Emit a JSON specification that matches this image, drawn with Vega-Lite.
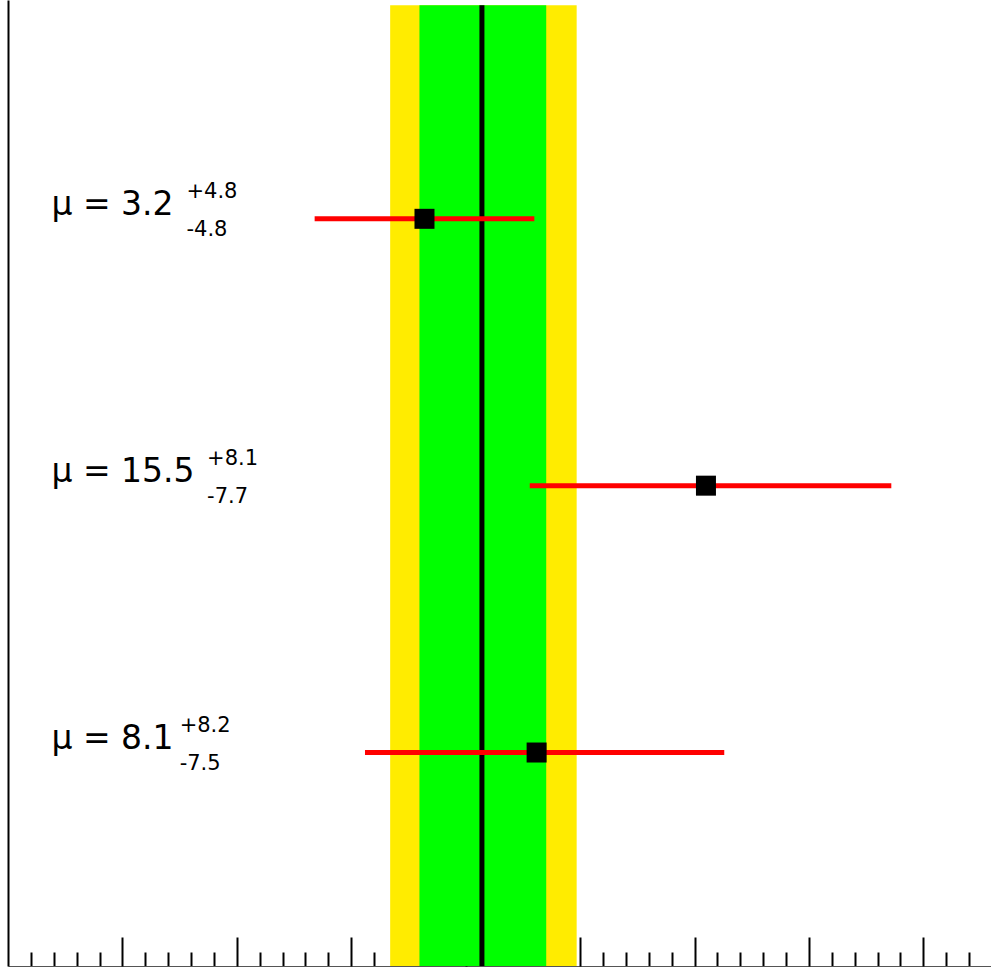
{
  "$schema": "https://vega.github.io/schema/vega-lite/v6.json",
  "width": 984,
  "height": 966,
  "autosize": {"type": "none"},
  "padding": {"left": 8, "top": 0, "right": 0, "bottom": 1},
  "background": "white",
  "config": {"view": {"stroke": null}},
  "datasets": {
    "bands": [
      {"band": "2 sigma", "lo": 1.7, "hi": 9.85},
      {"band": "1 sigma", "lo": 2.98, "hi": 8.52}
    ],
    "center": [{"value": 5.71}],
    "fits": [
      {"mu": 3.2, "lo": -1.6, "hi": 8.0, "row": 3, "label": "μ = 3.2", "up": "+4.8", "dn": "-4.8", "sx": -7.2},
      {"mu": 15.5, "lo": 7.8, "hi": 23.6, "row": 2, "label": "μ = 15.5", "up": "+8.1", "dn": "-7.7", "sx": -6.3},
      {"mu": 8.1, "lo": 0.6, "hi": 16.3, "row": 1, "label": "μ = 8.1", "up": "+8.2", "dn": "-7.5", "sx": -7.5}
    ]
  },
  "resolve": {"axis": {"x": "independent"}},
  "layer": [
    {
      "data": {"name": "bands"},
      "mark": {"type": "rect"},
      "encoding": {
        "x": {
          "field": "lo", "type": "quantitative",
          "scale": {"domain": [-15, 28], "nice": false, "zero": false},
          "axis": {
            "orient": "bottom", "title": null, "labels": false, "grid": false,
            "values": [-14,-13,-12,-11,-9,-8,-7,-6,-4,-3,-2,-1,1,2,3,4,6,7,8,9,11,12,13,14,16,17,18,19,21,22,23,24,26,27],
            "tickSize": -14, "tickWidth": 2, "tickColor": "black",
            "domain": true, "domainColor": "#555555", "domainWidth": 1
          }
        },
        "x2": {"field": "hi"},
        "y": {
          "datum": 0.2, "type": "quantitative",
          "scale": {"domain": [0.2, 3.82], "nice": false, "zero": false},
          "axis": {"orient": "left", "title": null, "labels": false, "ticks": false, "grid": false, "domain": true, "domainColor": "black", "domainWidth": 2}
        },
        "y2": {"datum": 3.8},
        "color": {
          "field": "band", "type": "nominal",
          "scale": {"domain": ["2 sigma", "1 sigma"], "range": ["#ffec00", "#00ff00"]},
          "legend": null
        }
      }
    },
    {
      "data": {"name": "center"},
      "mark": {"type": "rule", "color": "black", "strokeWidth": 5},
      "encoding": {
        "x": {
          "field": "value", "type": "quantitative",
          "axis": {
            "orient": "bottom", "title": null, "labels": false, "grid": false,
            "values": [-10, -5, 0, 5, 10, 15, 20, 25],
            "tickSize": -29, "tickWidth": 2, "tickColor": "black",
            "domain": false
          }
        },
        "y": {"datum": 0.2, "type": "quantitative"},
        "y2": {"datum": 3.8}
      }
    },
    {
      "data": {"name": "fits"},
      "mark": {"type": "rule", "color": "#ff0000", "strokeWidth": 5},
      "encoding": {
        "x": {"field": "lo", "type": "quantitative", "axis": null},
        "x2": {"field": "hi"},
        "y": {"field": "row", "type": "quantitative"}
      }
    },
    {
      "data": {"name": "fits"},
      "mark": {"type": "point", "shape": "square", "filled": true, "color": "black", "size": 400, "opacity": 1},
      "encoding": {
        "x": {"field": "mu", "type": "quantitative", "axis": null},
        "y": {"field": "row", "type": "quantitative"}
      }
    },
    {
      "data": {"name": "fits"},
      "mark": {"type": "text", "align": "left", "baseline": "alphabetic", "dy": -4, "font": "DejaVu Sans", "fontSize": 33, "color": "black"},
      "encoding": {
        "x": {"datum": -13.1, "type": "quantitative", "axis": null},
        "y": {"field": "row", "type": "quantitative"},
        "text": {"field": "label"}
      }
    },
    {
      "data": {"name": "fits"},
      "mark": {"type": "text", "align": "left", "baseline": "alphabetic", "dy": -21, "font": "DejaVu Sans", "fontSize": 21, "color": "black"},
      "encoding": {
        "x": {"field": "sx", "type": "quantitative", "axis": null},
        "y": {"field": "row", "type": "quantitative"},
        "text": {"field": "up"}
      }
    },
    {
      "data": {"name": "fits"},
      "mark": {"type": "text", "align": "left", "baseline": "alphabetic", "dy": 17, "font": "DejaVu Sans", "fontSize": 21, "color": "black"},
      "encoding": {
        "x": {"field": "sx", "type": "quantitative", "axis": null},
        "y": {"field": "row", "type": "quantitative"},
        "text": {"field": "dn"}
      }
    }
  ]
}
